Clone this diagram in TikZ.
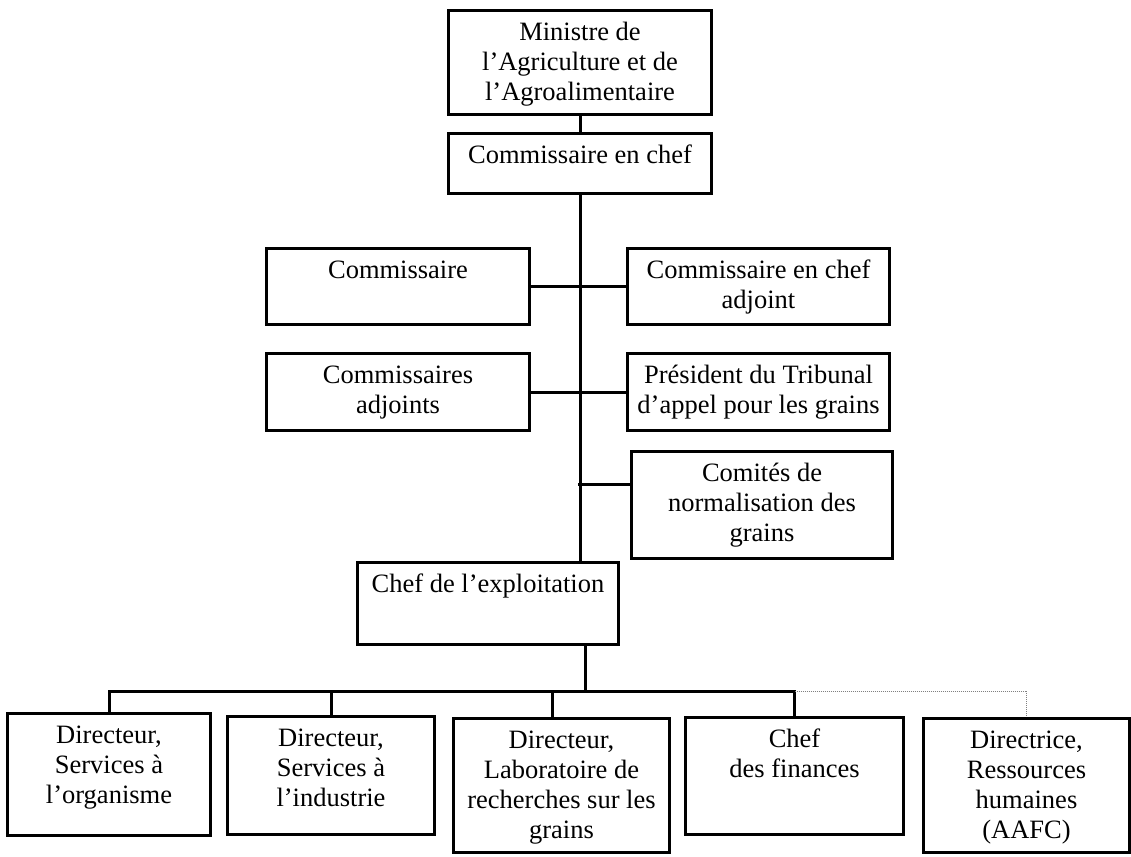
\documentclass[tikz,border=0pt]{standalone}
\usepackage{fontspec}
\setmainfont{Liberation Serif}
\usetikzlibrary{positioning}

% text of a box: width, height, lines (set at the top)
\newcommand{\orgtext}[3]{\parbox[c][#2pt][t]{#1pt}{\centering\vspace*{9pt}\strut #3\par}}

\begin{document}
\begin{tikzpicture}[x=1pt, y=-1pt, font=\fontsize{26.5}{30}\selectfont]
	
	% parameters
	\def\oline{3pt}       % line thickness
	
	\tikzset{
		unit/.style={draw, line width=\oline, inner sep=0pt, anchor=north west},
		link/.style={line width=\oline},
		dotlink/.style={line width=1pt, densely dotted, gray}
	}
	
	\useasboundingbox (0,0) rectangle (1131,856);
	
	% top of the chart
	\node[unit] (minister) at (447,9)   {\orgtext{263}{104}{Ministre de\\ l’Agriculture et de\\ l’Agroalimentaire}};
	\node[unit] (chief)    at (447,132) {\orgtext{263}{60}{Commissaire en chef}};
	
	% boxes on both sides of the trunk
	\node[unit] (comm)  at (265,247) {\orgtext{263}{76}{Commissaire}};
	\node[unit] (dep)   at (626,247) {\orgtext{262}{76}{Commissaire en chef\\ adjoint}};
	\node[unit] (adj)   at (265,352) {\orgtext{263}{77}{Commissaires\\ adjoints}};
	\node[unit] (pres)  at (626,352) {\orgtext{262}{77}{Président du Tribunal\\ d’appel pour les grains}};
	\node[unit] (comit) at (630,450) {\orgtext{261}{107}{Comités de\\ normalisation des\\ grains}};
	
	% operations
	\node[unit] (ops) at (356,561) {\orgtext{261}{82}{Chef de l’exploitation}};
	
	% directors (bottom row)
	\node[unit] (dir1) at (6,712)   {\orgtext{203}{122}{Directeur,\\ Services à\\ l’organisme}};
	\node[unit] (dir2) at (226,715) {\orgtext{207}{118}{Directeur,\\ Services à\\ l’industrie}};
	\node[unit] (lab)  at (452,717) {\orgtext{216}{134}{Directeur,\\ Laboratoire de\\ recherches sur les\\ grains}};
	\node[unit] (cfo)  at (684,716) {\orgtext{218}{117}{Chef\\ des finances}};
	\node[unit] (hr)   at (922,717) {\orgtext{206}{134}{Directrice,\\ Ressources\\ humaines\\ (AAFC)}};
	
	% trunk
	\draw[link] (minister) -- (chief);
	\draw[link] (chief.south) -- (chief.south |- ops.north);
	\draw[link] (comm.east) -- (dep.west);
	\draw[link] (adj.east) -- (pres.west);
	\coordinate (cj) at (578,484);
	\draw[link] (cj) -- (cj -| comit.west);
	
	% bar to the directors
	\coordinate (bar) at (585,691);
	\draw[link] (ops.south -| bar) -- (bar);
	\draw[link] (dir1.north) -- (dir1.north |- bar) -- (cfo.north |- bar) -- (cfo.north);
	\draw[link] (dir2.north |- bar) -- (dir2.north);
	\coordinate (labdrop) at (552,691);
	\draw[link] (labdrop) -- (labdrop |- lab.north);
	\draw[dotlink] (cfo.north |- bar) -- (hr.north |- bar) -- (hr.north);
	
\end{tikzpicture}
\end{document}
